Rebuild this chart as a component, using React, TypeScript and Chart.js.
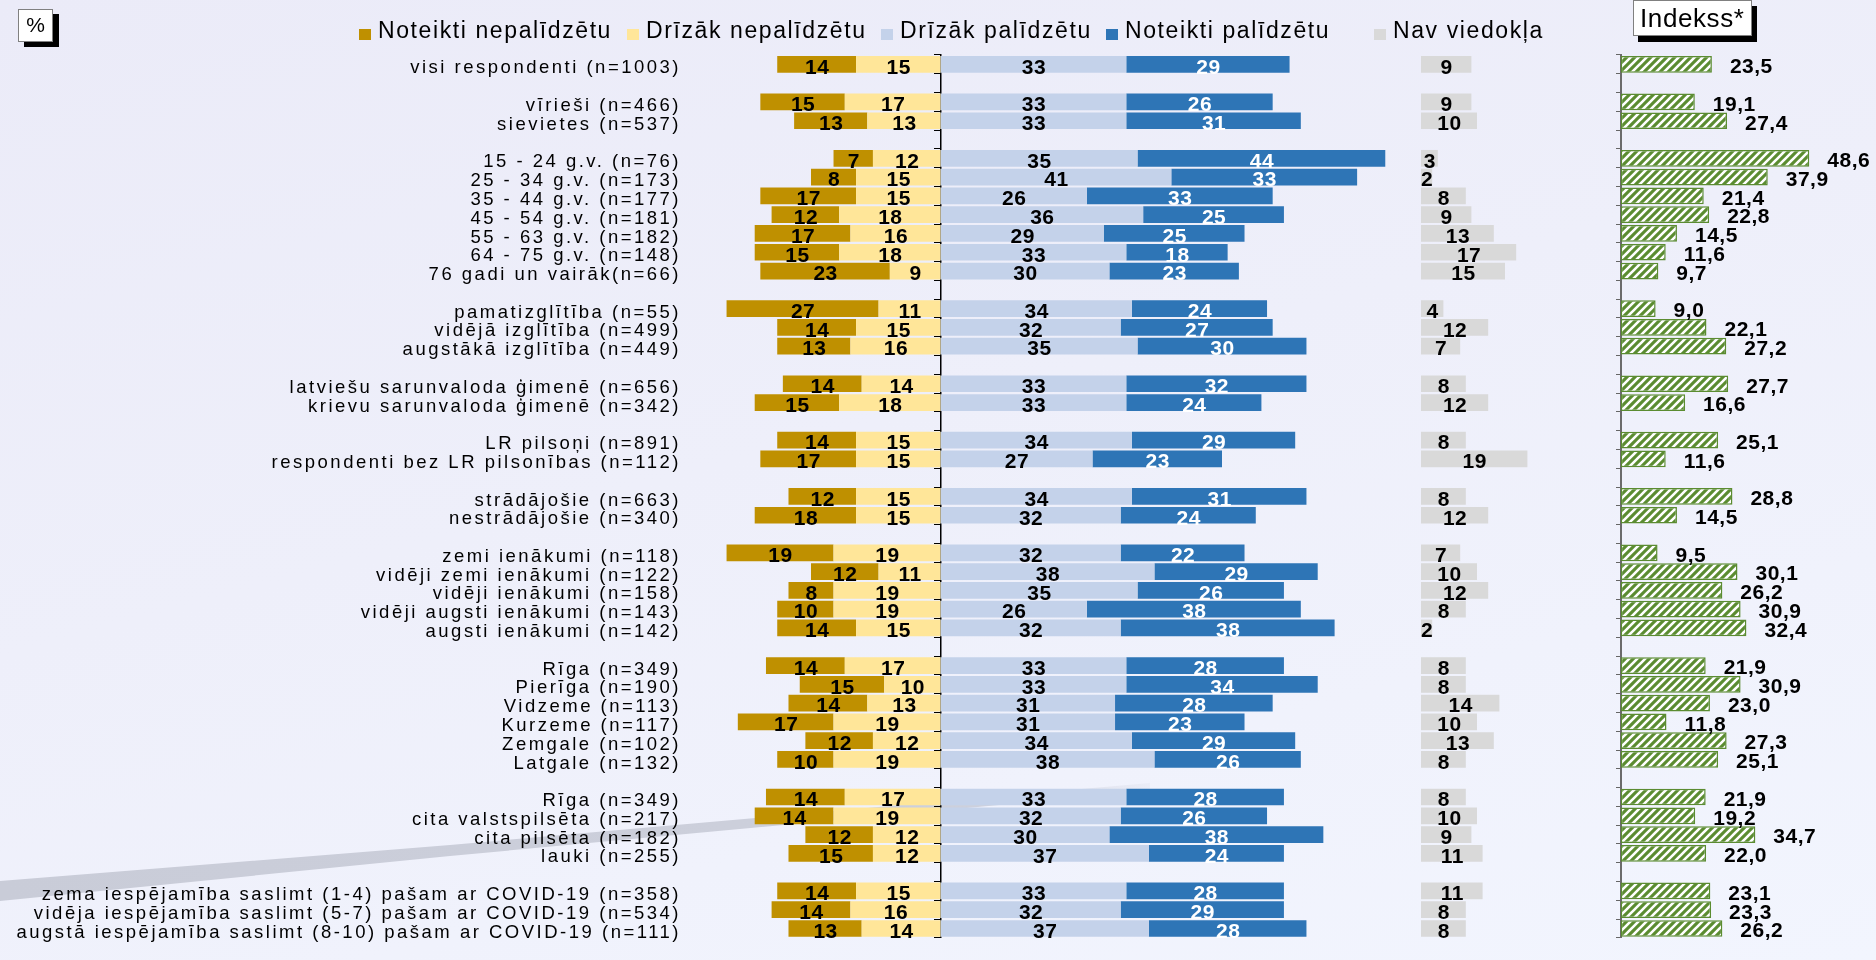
import React, { useEffect, useRef } from 'react';
import { Chart, registerables } from 'chart.js';

Chart.register(...registerables);

// ---------- DATA ----------
const categories: string[] = [
  'visi respondenti (n=1003)',
  '',
  'vīrieši (n=466)',
  'sievietes (n=537)',
  '',
  '15 - 24 g.v. (n=76)',
  '25 - 34 g.v. (n=173)',
  '35 - 44 g.v. (n=177)',
  '45 - 54 g.v. (n=181)',
  '55 - 63 g.v. (n=182)',
  '64 - 75 g.v. (n=148)',
  '76 gadi un vairāk(n=66)',
  '',
  'pamatizglītība (n=55)',
  'vidējā izglītība (n=499)',
  'augstākā izglītība (n=449)',
  '',
  'latviešu sarunvaloda ģimenē (n=656)',
  'krievu sarunvaloda ģimenē (n=342)',
  '',
  'LR pilsoņi (n=891)',
  'respondenti bez LR pilsonības (n=112)',
  '',
  'strādājošie (n=663)',
  'nestrādājošie (n=340)',
  '',
  'zemi ienākumi (n=118)',
  'vidēji zemi ienākumi (n=122)',
  'vidēji ienākumi (n=158)',
  'vidēji augsti ienākumi (n=143)',
  'augsti ienākumi (n=142)',
  '',
  'Rīga (n=349)',
  'Pierīga (n=190)',
  'Vidzeme (n=113)',
  'Kurzeme (n=117)',
  'Zemgale (n=102)',
  'Latgale (n=132)',
  '',
  'Rīga (n=349)',
  'cita valstspilsēta (n=217)',
  'cita pilsēta (n=182)',
  'lauki (n=255)',
  '',
  'zema iespējamība saslimt (1-4) pašam ar COVID-19 (n=358)',
  'vidēja iespējamība saslimt (5-7) pašam ar COVID-19 (n=534)',
  'augstā iespējamība saslimt (8-10) pašam ar COVID-19 (n=111)',
];

const noteiktiNepalidzetu: (number | null)[] = [
  14, null, 15, 13, null, 7, 8, 17, 12, 17, 15, 23, null, 27, 14, 13, null, 14, 15, null, 14, 17, null,
  12, 18, null, 19, 12, 8, 10, 14, null, 14, 15, 14, 17, 12, 10, null, 14, 14, 12, 15, null, 14, 14, 13,
];
const drizakNepalidzetu: (number | null)[] = [
  15, null, 17, 13, null, 12, 15, 15, 18, 16, 18, 9, null, 11, 15, 16, null, 14, 18, null, 15, 15, null,
  15, 15, null, 19, 11, 19, 19, 15, null, 17, 10, 13, 19, 12, 19, null, 17, 19, 12, 12, null, 15, 16, 14,
];
const drizakPalidzetu: (number | null)[] = [
  33, null, 33, 33, null, 35, 41, 26, 36, 29, 33, 30, null, 34, 32, 35, null, 33, 33, null, 34, 27, null,
  34, 32, null, 32, 38, 35, 26, 32, null, 33, 33, 31, 31, 34, 38, null, 33, 32, 30, 37, null, 33, 32, 37,
];
const noteiktiPalidzetu: (number | null)[] = [
  29, null, 26, 31, null, 44, 33, 33, 25, 25, 18, 23, null, 24, 27, 30, null, 32, 24, null, 29, 23, null,
  31, 24, null, 22, 29, 26, 38, 38, null, 28, 34, 28, 23, 29, 26, null, 28, 26, 38, 24, null, 28, 29, 28,
];
const navViedokla: (number | null)[] = [
  9, null, 9, 10, null, 3, 2, 8, 9, 13, 17, 15, null, 4, 12, 7, null, 8, 12, null, 8, 19, null,
  8, 12, null, 7, 10, 12, 8, 2, null, 8, 8, 14, 10, 13, 8, null, 8, 10, 9, 11, null, 11, 8, 8,
];
const indekss: (number | null)[] = [
  23.5, null, 19.1, 27.4, null, 48.6, 37.9, 21.4, 22.8, 14.5, 11.6, 9.7, null, 9.0, 22.1, 27.2, null,
  27.7, 16.6, null, 25.1, 11.6, null, 28.8, 14.5, null, 9.5, 30.1, 26.2, 30.9, 32.4, null,
  21.9, 30.9, 23.0, 11.8, 27.3, 25.1, null, 21.9, 19.2, 34.7, 22.0, null, 23.1, 23.3, 26.2,
];

const seriesNames = ['Noteikti nepalīdzētu', 'Drīzāk nepalīdzētu', 'Drīzāk palīdzētu', 'Noteikti palīdzētu', 'Nav viedokļa'];

// ---------- STYLE ----------
const C_NN = '#bf9000';
const C_DN = '#ffe699';
const C_DP = '#c4d2ea';
const C_NP = '#2e75b6';
const C_NAV = '#d9d9d9';
const C_IDX = '#5b8c31';
const FONT = '"Liberation Sans", Arial, sans-serif';
const SPACING = '2.5px';

const legendLeft = [359, 627, 881, 1106, 1374];
const legendColors = [C_NN, C_DN, C_DP, C_NP, C_NAV];

function hasFont(name: string): boolean {
  const c = document.createElement('canvas').getContext('2d');
  if (!c) return false;
  const s = 'abcdefghijklmnopqrstuvwxyz0123456789';
  c.font = '40px monospace';
  const w1 = c.measureText(s).width;
  c.font = `40px "${name}", monospace`;
  const w2 = c.measureText(s).width;
  return Math.abs(w1 - w2) > 0.5;
}

function makeHatch(): CanvasPattern | string {
  const c = document.createElement('canvas');
  c.width = 8;
  c.height = 8;
  const g = c.getContext('2d');
  if (!g) return C_IDX;
  g.fillStyle = C_IDX;
  g.fillRect(0, 0, 8, 8);
  g.strokeStyle = '#ffffff';
  g.lineWidth = 2.6;
  g.beginPath();
  g.moveTo(-2, 10); g.lineTo(10, -2);
  g.moveTo(-6, 6); g.lineTo(6, -6);
  g.moveTo(2, 14); g.lineTo(14, 2);
  g.stroke();
  return g.createPattern(c, 'repeat') || C_IDX;
}

const spacingPlugin = {
  id: 'letterSpacing',
  beforeDraw(chart: any) {
    (chart.ctx as any).letterSpacing = SPACING;
  },
};

function makeValueLabels(font: string, spacing: string) {
  return {
    id: 'valueLabels',
    afterDatasetsDraw(chart: any) {
      const ctx = chart.ctx;
      ctx.save();
      (ctx as any).letterSpacing = spacing;
      ctx.textBaseline = 'middle';
      ctx.font = font;
      chart.data.datasets.forEach((ds: any, di: number) => {
        const meta = chart.getDatasetMeta(di);
        meta.data.forEach((el: any, i: number) => {
          const v = ds.data[i];
          if (v === null || v === undefined) return;
          const p = el.getProps(['x', 'y', 'base'], true);
          if (ds.kind === 'index') {
            ctx.fillStyle = '#000';
            ctx.textAlign = 'left';
            ctx.fillText(v.toFixed(1).replace('.', ','), p.x + 18, p.y + 3);
          } else {
            ctx.fillStyle = ds.labelColor || '#000';
            ctx.textAlign = 'center';
            ctx.fillText(String(Math.abs(v)), (p.x + p.base) / 2 + 0.5, p.y + 3.5);
          }
        });
      });
      ctx.restore();
    },
  };
}

const neg = (arr: (number | null)[]) => arr.map((v) => (v === null ? null : -v));

// chart area: left 700, right 1870
const L = 700;
const R = 1870;
const mainZero = 940.5, mainPpu = 5.63;
const navZero = 1421, navPpu = 5.6;
const idxZero = 1620.7, idxPpu = 3.88;

export default function App() {
  const ref = useRef<HTMLCanvasElement>(null);

  useEffect(() => {
    const canvas = ref.current;
    if (!canvas) return;
    const hatch = makeHatch();
    const narrow = hasFont('Liberation Sans Narrow');
    const valueFont = narrow ? 'bold 22px "Liberation Sans Narrow", sans-serif' : `bold 21px ${FONT}`;
    const valueSpacing = narrow ? '1.8px' : '0.5px';
    const chart = new Chart(canvas, {
      type: 'bar',
      data: {
        labels: categories,
        datasets: [
          { label: seriesNames[1], data: neg(drizakNepalidzetu), backgroundColor: C_DN, xAxisID: 'x', labelColor: '#000' } as any,
          { label: seriesNames[0], data: neg(noteiktiNepalidzetu), backgroundColor: C_NN, xAxisID: 'x', labelColor: '#000' } as any,
          { label: seriesNames[2], data: drizakPalidzetu, backgroundColor: C_DP, xAxisID: 'x', labelColor: '#000' } as any,
          { label: seriesNames[3], data: noteiktiPalidzetu, backgroundColor: C_NP, xAxisID: 'x', labelColor: '#ffffff' } as any,
          { label: seriesNames[4], data: navViedokla, backgroundColor: C_NAV, xAxisID: 'xn', labelColor: '#000' } as any,
          {
            label: 'Indekss*', data: indekss, backgroundColor: hatch, borderColor: C_IDX, borderWidth: 1.5,
            borderSkipped: false, xAxisID: 'xi', kind: 'index',
          } as any,
        ],
      },
      options: {
        indexAxis: 'y',
        animation: false,
        responsive: true,
        maintainAspectRatio: false,
        layout: { padding: { left: 0, right: 1876 - R, top: 55, bottom: 3 } },
        datasets: { bar: { barPercentage: 0.89, categoryPercentage: 1 } },
        plugins: { legend: { display: false }, tooltip: { enabled: false } },
        scales: {
          x: {
            type: 'linear', axis: 'x', stacked: true, display: false,
            min: -(mainZero - L) / mainPpu, max: (R - mainZero) / mainPpu,
          },
          xn: {
            type: 'linear', axis: 'x', display: false,
            min: -(navZero - L) / navPpu, max: (R - navZero) / navPpu,
          },
          xi: {
            type: 'linear', axis: 'x', display: false,
            min: -(idxZero - L) / idxPpu, max: (R - idxZero) / idxPpu,
          },
          y: {
            type: 'category', axis: 'y', position: 'left', stacked: true, offset: true,
            grid: { display: false }, border: { display: false },
            ticks: { autoSkip: false, padding: 11, labelOffset: 4, color: '#000', font: { family: FONT, size: 18.5 } },
            afterFit: (s: any) => { s.width = L; },
          },
          y0: {
            type: 'category', axis: 'y', position: { x: 0 }, offset: true, z: 1,
            grid: { display: true, drawOnChartArea: false, drawTicks: true, tickLength: 6, offset: true, color: '#000', lineWidth: 1 },
            border: { display: true, color: '#000', width: 1.5 },
            ticks: { display: false },
          },
          yi: {
            type: 'category', axis: 'y', position: { xi: 0 }, offset: true, z: 1,
            grid: { display: true, drawOnChartArea: false, drawTicks: true, tickLength: 4, offset: true, color: '#666', lineWidth: 1 },
            border: { display: true, color: '#6b6b6b', width: 2 },
            ticks: { display: false },
          },
        } as any,
      },
      plugins: [spacingPlugin, makeValueLabels(valueFont, valueSpacing)],
    } as any);
    return () => chart.destroy();
  }, []);

  return (
    <div
      style={{
        position: 'fixed', left: 0, top: 0, width: 1876, height: 960, overflow: 'hidden',
        background: 'linear-gradient(165deg, #ebebf8 0%, #eeeffa 45%, #f2f5fe 100%)',
        fontFamily: FONT,
      }}
    >
      <svg width={1876} height={960} style={{ position: 'absolute', left: 0, top: 0 }}>
        <defs>
          <linearGradient id="bandGrad" x1="0" y1="0" x2="1" y2="0">
            <stop offset="0" stopColor="#c9ccd8" />
            <stop offset="0.85" stopColor="#cdd0dc" />
            <stop offset="1" stopColor="#d4d7e3" stopOpacity="0.2" />
          </linearGradient>
        </defs>
        <polygon points="0,881 450,845 1150,783 1150,791 450,856 0,901" fill="url(#bandGrad)" />
      </svg>

      <div style={{ position: 'absolute', left: 0, top: 0, width: 1876, height: 960 }}>
        <canvas ref={ref} />
      </div>

      {seriesNames.map((name, i) => (
        <div key={name}>
          <div style={{ position: 'absolute', left: legendLeft[i], top: 29, width: 12, height: 11, background: legendColors[i] }} />
          <div
            style={{
              position: 'absolute', left: legendLeft[i] + 19, top: 19, fontSize: 23, lineHeight: '23px',
              letterSpacing: '1.6px', color: '#000', whiteSpace: 'nowrap',
            }}
          >
            {name}
          </div>
        </div>
      ))}

      <div style={{ position: 'absolute', left: 18, top: 9, width: 33, height: 31, background: '#fff', border: '1px solid #808080', boxShadow: '6px 5px 0 #000' }} />
      <div style={{ position: 'absolute', left: 18, top: 13, width: 35, textAlign: 'center', fontSize: 21, lineHeight: '24px', color: '#000' }}>%</div>

      <div style={{ position: 'absolute', left: 1633, top: 0, width: 117, height: 34, background: '#fff', border: '1px solid #808080', boxShadow: '5px 6px 0 #000' }} />
      <div style={{ position: 'absolute', left: 1640, top: 5, fontSize: 26, lineHeight: '26px', letterSpacing: '0.6px', color: '#000', whiteSpace: 'nowrap' }}>Indekss*</div>
    </div>
  );
}
